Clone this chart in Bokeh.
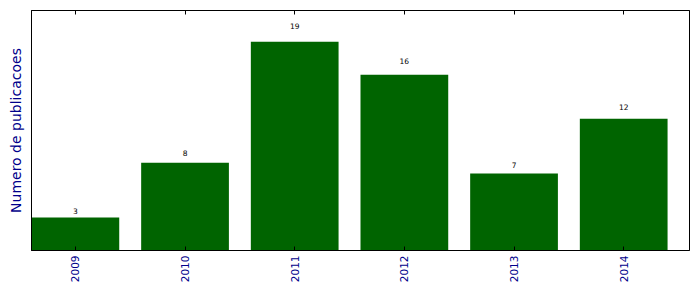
from bokeh.plotting import figure
from bokeh.models import ColumnDataSource, FixedTicker, LinearAxis, Range1d
from bokeh.core.properties import value
from bokeh.embed import file_html
from bokeh.resources import INLINE

years = ["2009", "2010", "2011", "2012", "2013", "2014"]
counts = [3, 8, 19, 16, 7, 12]

centers = [i + 0.4 for i in range(len(years))]
src = ColumnDataSource(dict(
    x=centers, top=counts,
    ly=[c * 1.05 for c in counts],
    lab=[str(c) for c in counts],
))

p = figure(frame_width=658, frame_height=240, output_backend="svg", toolbar_location=None,
           x_range=Range1d(0, len(years)), y_range=Range1d(0, max(counts) * 1.15),
           min_border_left=31, min_border_right=10, min_border_top=10, min_border_bottom=42)
p.background_fill_color = "white"
p.border_fill_color = "white"
p.outline_line_color = "black"
p.outline_line_width = 1
p.xgrid.visible = False
p.ygrid.visible = False

p.vbar(x="x", top="top", width=0.8, source=src, fill_color="#006400", line_color=None)
p.text(x="x", y="ly", text="lab", source=src, text_align="center", text_baseline="bottom",
       y_offset=-2,
       text_font=value("DejaVu Sans"), text_font_size="7.5px", text_color="black")

ticker = FixedTicker(ticks=centers)
xa = p.xaxis[0]
xa.ticker = ticker
xa.major_label_overrides = {c: y for c, y in zip(centers, years)}
xa.major_label_orientation = 1.5707963
xa.major_label_text_font = "DejaVu Sans"
xa.major_label_text_font_size = "10.5px"
xa.major_label_text_color = "#00008B"
xa.major_tick_in = 4
xa.major_tick_out = 0
xa.minor_tick_line_color = None
xa.axis_line_color = "black"
xa.major_label_standoff = 5

top = LinearAxis(ticker=ticker, major_label_overrides={c: "" for c in centers},
                 major_tick_in=4, major_tick_out=0, minor_tick_line_color=None,
                 axis_line_color="black", major_label_standoff=0)
p.add_layout(top, "above")

ya = p.yaxis[0]
ya.ticker = FixedTicker(ticks=[])
ya.major_tick_line_color = None
ya.minor_tick_line_color = None
ya.major_label_standoff = 0
ya.axis_label = "Numero de publicacoes"
ya.axis_label_text_font = "DejaVu Sans"
ya.axis_label_text_font_style = "normal"
ya.axis_label_text_font_size = "14px"
ya.axis_label_text_color = "#00008B"
ya.axis_label_standoff = 8

open("out.html", "w").write(file_html(p, INLINE))
